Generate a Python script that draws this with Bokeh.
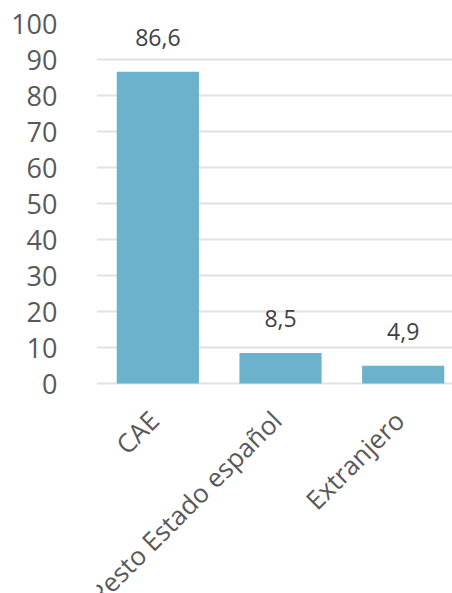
import math
from bokeh.plotting import figure
from bokeh.models import ColumnDataSource, Range1d, FixedTicker
from bokeh.core.properties import value
from bokeh.embed import file_html
from bokeh.resources import INLINE

categories = ["CAE", "Resto Estado español", "Extranjero"]
values = [86.6, 8.5, 4.9]
value_labels = ["86,6", "8,5", "4,9"]
y_ticks = [0, 10, 20, 30, 40, 50, 60, 70, 80, 90, 100]

xs = list(range(len(categories)))
src = ColumnDataSource(dict(x=xs, top=values, lab=value_labels, cat=categories))

# frame: 0..100 occupies 360 px; extend below 0 so category labels sit inside the frame
W = 452
H = 593
TOP = 23
PX_PER_UNIT = 3.6
y_min = -(H - TOP - 100 * PX_PER_UNIT) / PX_PER_UNIT

p = figure(width=W, height=H, output_backend="svg", toolbar_location=None,
           x_range=Range1d(-0.5, 2.402), y_range=Range1d(y_min, 100),
           min_border_left=96, min_border_top=TOP, min_border_right=0,
           min_border_bottom=0)
p.outline_line_color = None
p.background_fill_color = "white"
p.border_fill_color = "white"

p.vbar(x="x", top="top", width=0.67, bottom=0, source=src,
       fill_color="#6CB2CD", line_color=None)

p.text(x="x", y="top", text="lab", source=src, y_offset=-34,
       text_align="center", text_baseline="middle",
       text_font=value("Open Sans"), text_font_size="23px", text_color="#404040")

p.text(x="x", y=0, text="cat", source=src, x_offset=-4, y_offset=32,
       angle=math.pi / 4, text_align="right", text_baseline="middle",
       text_font=value("Open Sans"), text_font_size="26px", text_color="#595959")

p.xgrid.grid_line_color = None
p.ygrid.grid_line_color = "#E2E2E2"
p.ygrid.grid_line_width = 2
p.ygrid.ticker = FixedTicker(ticks=y_ticks)
p.yaxis.ticker = FixedTicker(ticks=y_ticks)
p.yaxis.axis_line_color = None
p.yaxis.major_tick_line_color = None
p.yaxis.minor_tick_line_color = None
p.yaxis.major_label_standoff = 33
p.yaxis.major_label_text_font = "Open Sans"
p.yaxis.major_label_text_font_size = "27px"
p.yaxis.major_label_text_color = "#595959"

p.xaxis.visible = False

open("out.html", "w").write(file_html(p, INLINE))
